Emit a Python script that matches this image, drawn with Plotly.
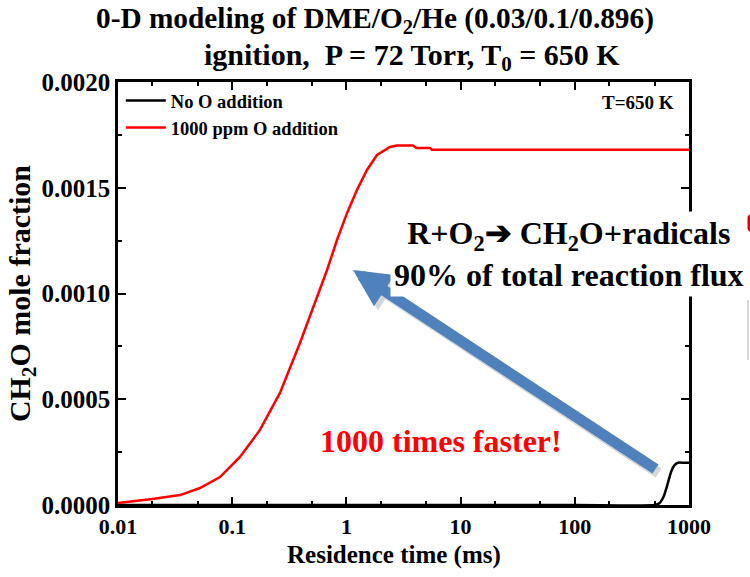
import plotly.graph_objects as go

# ---- data ----
time_red_ms = [0.01, 0.02, 0.035, 0.0522, 0.0782, 0.117, 0.175, 0.262, 0.392, 0.51, 0.676,
               0.827, 1.012, 1.239, 1.514, 1.853, 2.41, 2.77, 3.83, 4.1, 5.4, 5.6, 10, 100, 1000]
ch2o_red = [0.0000095, 0.000028, 0.000047, 0.0000804, 0.000132, 0.000227, 0.000355, 0.00053,
            0.000766, 0.000936, 0.00111, 0.001253, 0.00138, 0.00149, 0.001584, 0.001655,
            0.001693, 0.0017, 0.0017, 0.001688, 0.001688, 0.00168, 0.00168, 0.00168, 0.00168]

time_black_ms = [0.01, 1, 100, 500, 550, 600, 650, 700, 750, 800, 900, 1000]
ch2o_black = [0, 0, 0, 0, 0.000008, 0.00004, 0.0001, 0.00016, 0.00019, 0.0002, 0.0002, 0.0002]

x_tickvals = [0.01, 0.1, 1, 10, 100, 1000]
x_ticktext = ["0.01", "0.1", "1", "10", "100", "1000"]
y_tickvals = [0.0, 0.0005, 0.0010, 0.0015, 0.0020]
y_ticktext = ["0.0000", "0.0005", "0.0010", "0.0015", "0.0020"]

FONT = "Liberation Serif, Times New Roman, serif"

# plot area in pixels
L, R, T, B = 118, 689, 82, 505
W, H = 750, 577

def px(x):
    return (x - L) / (R - L)

def py(y):
    return (B - y) / (B - T)

fig = go.Figure()
fig.add_trace(go.Scatter(x=time_black_ms, y=ch2o_black, mode="lines", name="No O addition",
                         line=dict(color="black", width=2.5, shape="spline", smoothing=0.6)))
fig.add_trace(go.Scatter(x=time_red_ms, y=ch2o_red, mode="lines", name="1000 ppm O addition",
                         line=dict(color="#ff0000", width=2.5)))

axis_common = dict(showline=True, linecolor="black", linewidth=2.5, mirror="allticks",
                   ticks="inside", tickcolor="black", tickwidth=2, ticklen=8,
                   showgrid=False, zeroline=False)

fig.update_xaxes(type="log", range=[-2, 3], tickvals=x_tickvals, ticktext=x_ticktext,
                 tickfont=dict(family=FONT, size=22, color="black", weight="bold"),
                 minor=dict(ticks="inside", ticklen=4, tickwidth=1.5, tickcolor="black",
                            showgrid=False),
                 **axis_common)
fig.update_yaxes(range=[0, 0.002], tickvals=y_tickvals, ticktext=y_ticktext,
                 tickfont=dict(family=FONT, size=25, color="black", weight="bold"),
                 minor=dict(ticks="inside", ticklen=4, tickwidth=1.5, tickcolor="black",
                            dtick=0.00025, showgrid=False),
                 title=dict(text="CH<sub>2</sub>O mole fraction", standoff=2,
                            font=dict(family=FONT, size=30, color="black", weight="bold")),
                 **axis_common)

annotations = [
    dict(text="0-D modeling of DME/O<sub>2</sub>/He (0.03/0.1/0.896)",
         x=px(375), y=py(20), xref="paper", yref="paper", xanchor="center",
         yanchor="middle", showarrow=False,
         font=dict(family=FONT, size=29.3, color="black", weight="bold")),
    dict(text="ignition,  P = 72 Torr, T<sub>0</sub> = 650 K",
         x=px(412), y=py(57), xref="paper", yref="paper", xanchor="center",
         yanchor="middle", showarrow=False,
         font=dict(family=FONT, size=30, color="black", weight="bold")),
    dict(text="Residence time (ms)", x=px(394), y=py(555), xref="paper", yref="paper",
         xanchor="center", yanchor="middle", showarrow=False,
         font=dict(family=FONT, size=25, color="black", weight="bold")),
    dict(text="T=650 K", x=px(676), y=py(103), xref="paper", yref="paper", xanchor="right",
         yanchor="middle", showarrow=False,
         font=dict(family=FONT, size=19, color="black", weight="bold")),
    # arrow shadow
    dict(text="", x=px(357), y=py(274), xref="paper", yref="paper",
         ax=303, ay=200, showarrow=True,
         arrowhead=2, arrowsize=0.68, arrowwidth=11, arrowcolor="rgba(0,0,0,0.16)"),
    dict(text="", x=px(353), y=py(270), xref="paper", yref="paper",
         ax=304, ay=200, showarrow=True,
         arrowhead=2, arrowsize=0.68, arrowwidth=11, arrowcolor="#4F81BD"),
    dict(text="R+O<sub>2</sub>➔ CH<sub>2</sub>O+radicals<br>90% of total reaction flux",
         x=px(569), y=py(254), xref="paper", yref="paper", xanchor="center", yanchor="middle",
         showarrow=False, bgcolor="white", borderpad=3, align="center",
         font=dict(family=FONT, size=32, color="black", weight="bold")),
    dict(text="1000 times faster!", x=px(441), y=py(441), xref="paper", yref="paper",
         xanchor="center", yanchor="middle", showarrow=False,
         font=dict(family=FONT, size=32, color="#ff0000", weight="bold")),
]

shapes = [
    dict(type="circle", xref="paper", yref="paper", x0=px(745), x1=px(765), y0=py(233),
         y1=py(213), fillcolor="#e00000", line=dict(width=0)),
    dict(type="line", xref="paper", yref="paper", x0=px(748), x1=px(748), y0=py(300),
         y1=py(360), line=dict(color="#d8d8d8", width=2)),
]

fig.update_layout(
    width=W, height=H,
    margin=dict(l=L, r=W - R, t=T, b=H - B),
    paper_bgcolor="white", plot_bgcolor="white",
    legend=dict(x=0.005, y=1.0, xanchor="left", yanchor="top", bgcolor="rgba(0,0,0,0)",
                font=dict(family=FONT, size=18.5, color="black", weight="bold"),
                tracegroupgap=0, itemwidth=40),
    annotations=annotations,
    shapes=shapes,
)

fig.write_html("out.html")
